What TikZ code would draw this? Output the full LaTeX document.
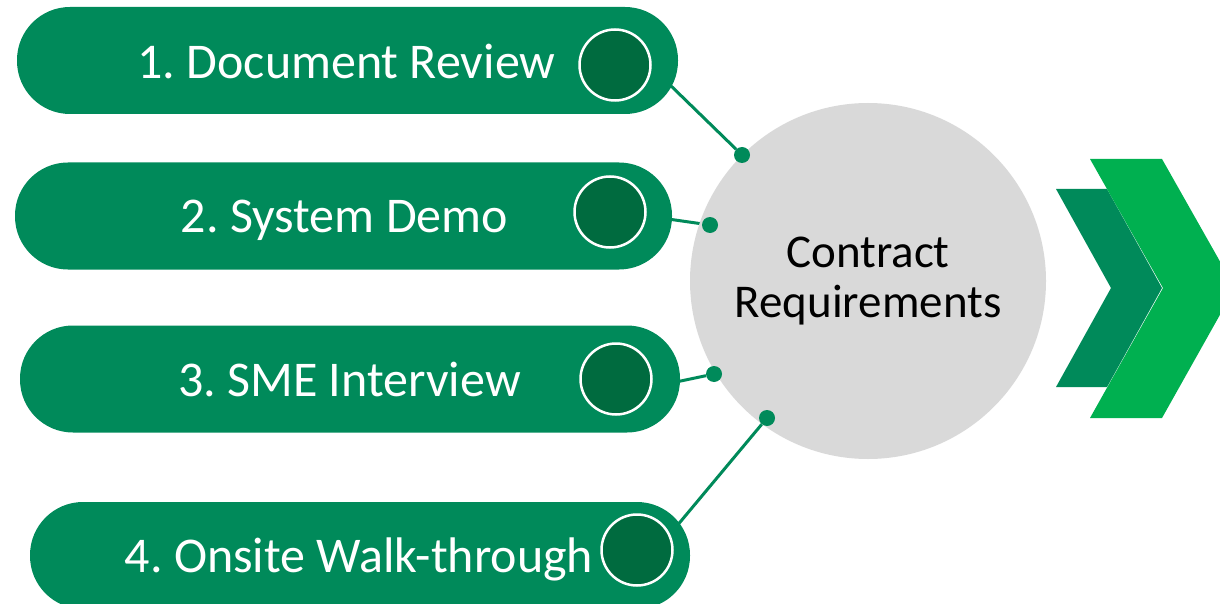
\documentclass[tikz,border=0pt]{standalone}
\usepackage{fontspec}
\setmainfont{Carlito}
\usetikzlibrary{backgrounds}
\definecolor{cpill}{HTML}{008A5A}
\definecolor{cdark}{HTML}{006B3F}
\definecolor{cbright}{HTML}{00B050}
\definecolor{cgray}{HTML}{D9D9D9}
\frenchspacing

\begin{document}
\begin{tikzpicture}[x=1pt, y=-1pt,
    pill/.style={fill=cpill, rounded corners=53pt, minimum height=107pt, inner sep=0pt},
    ring/.style={circle, fill=cdark, draw=white, line width=2.5pt, minimum size=71pt, inner sep=0pt},
    t/.style={anchor=base, text=white, font=\fontsize{50}{52}\selectfont},
    dot/.style={circle, fill=cpill, minimum size=16pt, inner sep=0pt},
    ln/.style={cpill, line width=3pt}]
  \useasboundingbox (0,0) rectangle (1220,604);
  \clip (0,0) rectangle (1220,604);

  % chevrons
  \fill[cpill] (1056,189) -- (1107,189) -- (1162,288) -- (1107,387) -- (1056,387) -- (1111,288) -- cycle;
  \fill[cbright] (1090,159) -- (1162,159) -- (1235,288) -- (1162,418) -- (1090,418) -- (1163,288) -- cycle;

  \node[circle, fill=cgray, minimum size=356pt, inner sep=0pt, align=center,
        font=\fontsize{47}{50}\selectfont] (req) at (868,281) {Contract\\Requirements};

  \node[pill, minimum width=661pt] (p1) at (347.5,60.5) {};
  \node[pill, minimum width=657pt] (p2) at (343.5,216) {};
  \node[pill, minimum width=660pt] (p3) at (350,379) {};
  \node[pill, minimum width=660pt] (p4) at (360,555.5) {};

  \node[t] (t1) at (346.5,79) {1. Document Review};
  \node[t] (t2) at (344.5,232) {2. System Demo};
  \node[t] (t3) at (349.5,396) {3. SME Interview};
  \node[t] (t4) at (359,572) {4. Onsite Walk-through};

  \node[ring] (r1) at (615,65) {};
  \node[ring] (r2) at (610,212) {};
  \node[ring] (r3) at (616,379) {};
  \node[ring] (r4) at (637,550) {};

  \node[dot] (d1) at (742,155) {};
  \node[dot] (d2) at (710,225) {};
  \node[dot] (d3) at (714,374) {};
  \node[dot] (d4) at (767,418) {};

  \coordinate (e1) at (668,83);
  \coordinate (e2) at (668,219);
  \coordinate (e3) at (676,382);
  \coordinate (e4) at (676,527);

  \begin{scope}[on background layer]
    \draw[ln] (e1) -- (d1);
    \draw[ln] (e2) -- (d2);
    \draw[ln] (e3) -- (d3);
    \draw[ln] (e4) -- (d4);
  \end{scope}
\end{tikzpicture}
\end{document}
